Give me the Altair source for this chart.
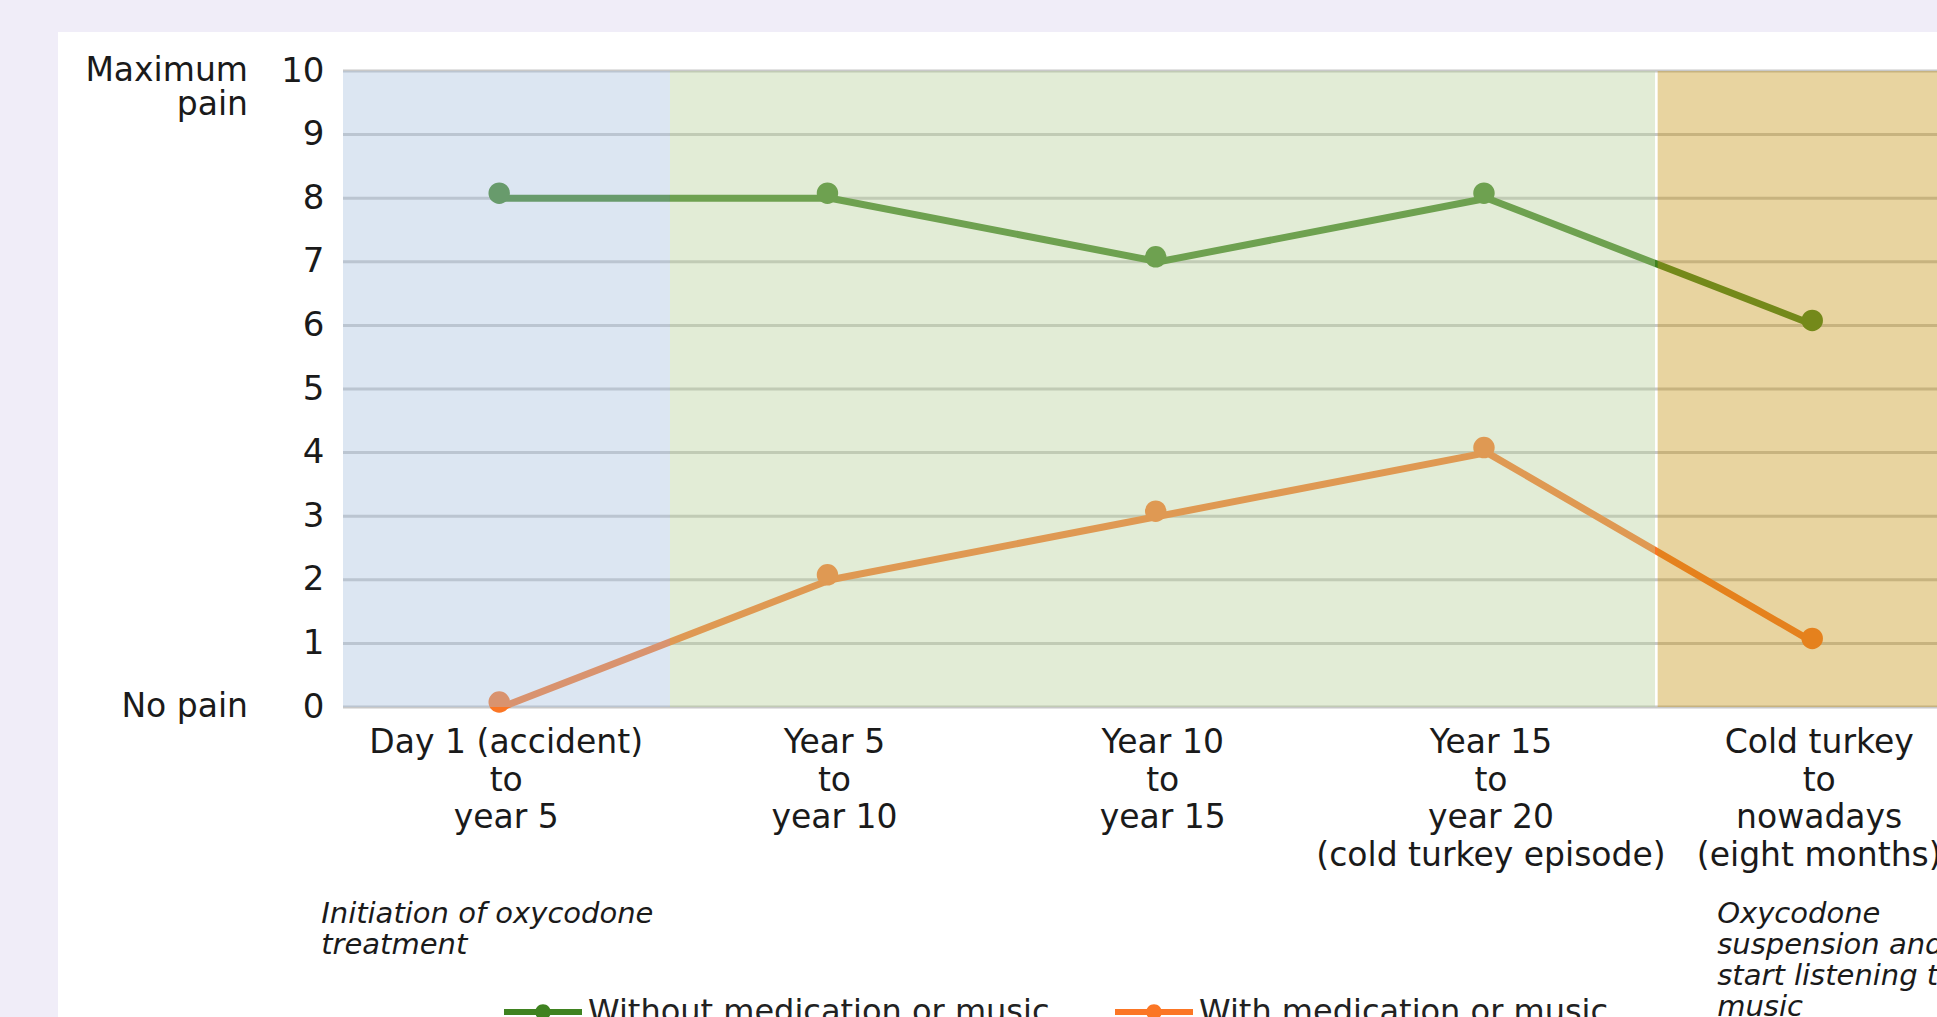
import altair as alt
import pandas as pd

# ---------------- data ----------------
categories = [
    "Day 1 (accident)\nto\nyear 5",
    "Year 5\nto\nyear 10",
    "Year 10\nto\nyear 15",
    "Year 15\nto\nyear 20\n(cold turkey episode)",
    "Cold turkey\nto\nnowadays\n(eight months)",
]
without_values = [8, 8, 7, 8, 6]
with_values = [0, 2, 3, 4, 1]
series_names = ["Without medication or music", "With medication or music"]
y_ticks = list(range(0, 11))
scale_labels = ["Maximum\npain", "No pain"]
scale_label_at = [10, 0]

# background periods (in category-index units)
period_names = ["initiation", "oxycodone", "music"]
period_starts = [-0.485, 0.511, 3.52]
period_ends = [0.511, 3.512, 4.371]

annotations = ["Initiation of oxycodone\ntreatment",
               "Oxycodone\nsuspension  and\nstart listening to\nmusic"]
annotation_at = [0, 4]

# ---------------- styling ----------------
W, H = 1594, 636
FONT = "DejaVu Sans"
series_colors = ["#3f8220", "#fb7625"]
period_colors = ["#a7c0de", "#b6cf98", "#c59411"]
LEGEND_PATH = ("M-1,-0.08L1,-0.08L1,0.08L-1,0.08Z "
               "M-0.2,0A0.2,0.2,0,1,1,0.2,0A0.2,0.2,0,1,1,-0.2,0Z")

rows = []
for i, c in enumerate(categories):
    rows.append({"idx": i, "series": series_names[0], "value": without_values[i]})
    rows.append({"idx": i, "series": series_names[1], "value": with_values[i]})
df = pd.DataFrame(rows)
cat_df = pd.DataFrame({"idx": list(range(len(categories))), "label": categories})
grid_df = pd.DataFrame({"v": y_ticks})
period_df = pd.DataFrame({"name": period_names, "start": period_starts, "end": period_ends})
ann_df = pd.DataFrame({"idx": annotation_at, "text": annotations})
side_df = pd.DataFrame({"v": scale_label_at, "t": scale_labels})
one_df = pd.DataFrame({"k": [0]})

xscale = alt.Scale(domain=[-0.485, 4.371], nice=False, zero=False)
yscale = alt.Scale(domain=[0, 10], nice=False)
cscale = alt.Scale(domain=series_names, range=series_colors)

card = alt.Chart(one_df).mark_rect(color="white").encode(
    x=alt.value(-285), x2=alt.value(W + 50), y=alt.value(-39), y2=alt.value(H + 400)
)

grid = alt.Chart(grid_df).mark_rule(color="#c8c8c8", strokeWidth=3).encode(
    y=alt.Y("v:Q", scale=yscale,
            axis=alt.Axis(values=y_ticks, title=None, domain=False, ticks=False,
                          grid=False, labelFontSize=34, labelFont=FONT, format="d",
                          labelColor="#1a1a1a", labelPadding=19, zindex=1,
                          labelFlush=False, labelOverlap=False))
)

lines = alt.Chart(df).mark_line(strokeWidth=7, strokeJoin="round", strokeCap="round").encode(
    x=alt.X("idx:Q", scale=xscale, axis=None),
    y=alt.Y("value:Q", scale=yscale),
    color=alt.Color("series:N", scale=cscale,
                    legend=alt.Legend(title=None, orient="none", legendX=161, legendY=902,
                                      direction="horizontal", symbolType=LEGEND_PATH,
                                      symbolSize=6084, symbolStrokeWidth=0,
                                      symbolOpacity=1, labelFontSize=32,
                                      labelFont=FONT, labelColor="#222222",
                                      labelOffset=6, labelLimit=900,
                                      columnPadding=65, padding=0)),
)

points = alt.Chart(df).mark_point(filled=True, size=460, opacity=1,
                                  xOffset=-3, yOffset=-5).encode(
    x=alt.X("idx:Q", scale=xscale, axis=None),
    y=alt.Y("value:Q", scale=yscale),
    color=alt.Color("series:N", scale=cscale, legend=None),
)

periods = alt.Chart(period_df).mark_rect(opacity=0.4).encode(
    x=alt.X("start:Q", scale=xscale, axis=None),
    x2="end:Q",
    y=alt.value(0),
    y2=alt.value(H),
    fill=alt.Fill("name:N", scale=alt.Scale(domain=period_names, range=period_colors),
                  legend=None),
)

cat_text = alt.Chart(cat_df).mark_text(
    lineBreak="\n", fontSize=33, lineHeight=37.5, align="center",
    baseline="alphabetic", dy=46, dx=4, font=FONT, color="#1a1a1a"
).encode(x=alt.X("idx:Q", scale=xscale, axis=None), y=alt.datum(0), text="label:N")

ann1 = alt.Chart(ann_df).transform_filter(alt.datum.idx == annotation_at[0]).mark_text(
    lineBreak="\n", fontSize=29, lineHeight=31, align="left", baseline="alphabetic",
    fontStyle="italic", dy=216, dx=-181, font=FONT, color="#1a1a1a"
).encode(x=alt.X("idx:Q", scale=xscale, axis=None), y=alt.datum(0), text="text:N")

ann2 = alt.Chart(ann_df).transform_filter(alt.datum.idx == annotation_at[1]).mark_text(
    lineBreak="\n", fontSize=29, lineHeight=31, align="left", baseline="alphabetic",
    fontStyle="italic", dy=216, dx=-98, font=FONT, color="#1a1a1a"
).encode(x=alt.X("idx:Q", scale=xscale, axis=None), y=alt.datum(0), text="text:N")

side = alt.Chart(side_df).mark_text(
    lineBreak="\n", fontSize=33, lineHeight=34, align="right", baseline="middle",
    font=FONT, color="#1a1a1a"
).encode(x=alt.value(-95), y=alt.Y("v:Q", scale=yscale), text="t:N")

chart = alt.layer(card, grid, lines, points, periods, cat_text, ann1, ann2, side).properties(
    width=W, height=H,
    padding={"left": 343, "top": 71, "right": 0, "bottom": 310},
    autosize=alt.AutoSizeParams(type="none"),
    background="#f0edf8",
).configure_view(stroke=None).configure(font=FONT)

chart.save("out.html", embed_options={"renderer": "svg", "actions": False})
